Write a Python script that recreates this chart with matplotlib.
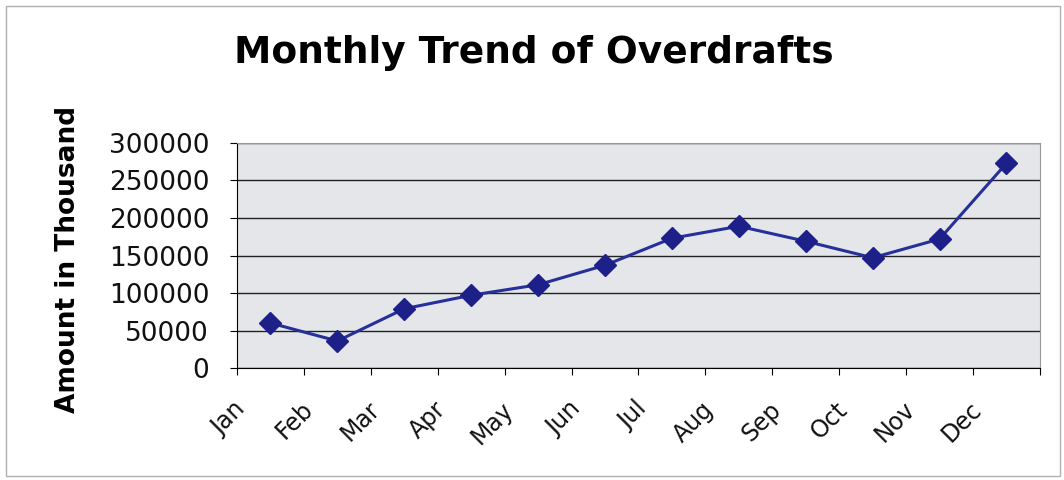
import matplotlib.pyplot as plt
from matplotlib.transforms import ScaledTranslation
from matplotlib.patches import Rectangle

months = ["Jan", "Feb", "Mar", "Apr", "May", "Jun",
          "Jul", "Aug", "Sep", "Oct", "Nov", "Dec"]
overdrafts = [60000, 36000, 79000, 97000, 111000, 137000,
              173000, 189000, 169000, 147000, 172000, 273000]
yticks = [0, 50000, 100000, 150000, 200000, 250000, 300000]

plt.rcParams['font.family'] = ['DejaVu Sans']

fig = plt.figure(figsize=(10.64, 4.8), dpi=100)
ax = fig.add_axes([0.2227, 0.2333, 0.7547, 0.4688])
ax.set_facecolor("#e4e6ea")

x = range(len(months))
ax.plot(x, overdrafts, color="#26309a", linewidth=2.2,
        marker="D", markersize=11, markerfacecolor="#1c2088",
        markeredgecolor="#1c2088", zorder=3)

ax.set_xlim(-0.5, len(months) - 0.5)
ax.set_ylim(0, 300000)
ax.set_yticks(yticks)
ax.set_yticklabels([str(v) for v in yticks], fontsize=19, color="#111111")
ax.yaxis.grid(True, color="#222222", linewidth=1)
ax.set_axisbelow(True)

# tick marks between categories, labels near the centers
ax.set_xticks([i - 0.5 for i in range(len(months) + 1)])
ax.set_xticklabels([])
ax.set_xticks(list(x), minor=True)
ax.set_xticklabels(months, minor=True, rotation=45, ha="right",
                   rotation_mode="anchor", fontsize=17, color="#111111")
ax.tick_params(axis="x", which="minor", length=0, pad=21)
ax.tick_params(axis="x", which="major", length=5, direction="out")
ax.tick_params(axis="y", length=5, direction="out", pad=15)
offset = ScaledTranslation(-0.37, 0, fig.dpi_scale_trans)
for lab in ax.get_xticklabels(minor=True):
    lab.set_transform(lab.get_transform() + offset)

for side in ["top", "right"]:
    ax.spines[side].set_color("#999999")
for side in ["left", "bottom"]:
    ax.spines[side].set_color("black")

ax.set_ylabel("Amount in Thousand", fontsize=19, fontweight="bold")
ax.yaxis.set_label_coords(-0.194, 0.484)
fig.text(0.502, 0.869, "Monthly Trend of Overdrafts", ha="center", va="baseline",
         fontsize=27, fontweight="bold")

fig.patches.append(Rectangle((0.006, 0.008), 0.99, 0.98, transform=fig.transFigure,
                             fill=False, edgecolor="#b0b0b0", linewidth=1))

fig.savefig("out.png", dpi=100)
